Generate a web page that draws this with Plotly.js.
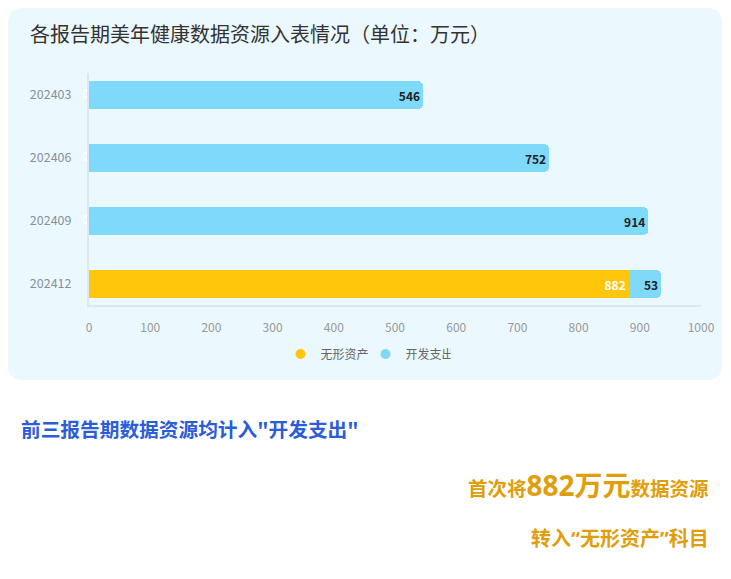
<!DOCTYPE html>
<html>
<head>
<meta charset="utf-8">
<script src="https://cdn.plot.ly/plotly-3.0.1.min.js"></script>
<style>
  html, body { margin: 0; padding: 0; background: #fff; }
  #chart { width: 731px; height: 579px; }
</style>
</head>
<body>
<div id="chart"></div>
<script>
// data
var periods = ['202403', '202406', '202409', '202412'];
var intangible = [0, 0, 0, 882];      // 无形资产
var devExpense = [546, 752, 914, 53]; // 开发支出
var xTicks = [0, 100, 200, 300, 400, 500, 600, 700, 800, 900, 1000];

var FONT = '"Noto Sans CJK SC", "Noto Sans", sans-serif';
var NOTE_FONT = '"Noto Sans", "Noto Sans CJK SC", sans-serif';
var YELLOW = '#FFC60B', BLUE = '#7ED9FB';

// plot box in px (used for the panel + notes placement)
var W = 731, H = 579;
var L = 89, R = 701, T = 73, B = 305;
function px(x) { return (x - L) / (R - L); }
function py(y) { return (B - y) / (B - T); }

// rounded panel path in paper units
function roundRect(x0, y0, x1, y1, r) {
  var p = function (x, y) { return px(x) + ',' + py(y); };
  return 'M' + p(x0 + r, y0) + ' L' + p(x1 - r, y0) + ' Q' + p(x1, y0) + ' ' + p(x1, y0 + r) +
    ' L' + p(x1, y1 - r) + ' Q' + p(x1, y1) + ' ' + p(x1 - r, y1) +
    ' L' + p(x0 + r, y1) + ' Q' + p(x0, y1) + ' ' + p(x0, y1 - r) +
    ' L' + p(x0, y0 + r) + ' Q' + p(x0, y0) + ' ' + p(x0 + r, y0) + ' Z';
}

var traces = [
  {
    type: 'bar', orientation: 'h', name: '无形资产',
    y: periods, x: intangible, width: 0.44,
    marker: { color: YELLOW },
    text: intangible.map(v => v > 0 ? String(v) : ''),
    textposition: 'inside', insidetextanchor: 'end',
    textfont: { color: '#fff', size: 12, family: FONT, weight: 'bold' },
    showlegend: false
  },
  {
    type: 'bar', orientation: 'h', name: '开发支出',
    y: periods, x: devExpense, width: 0.44,
    marker: { color: BLUE },
    text: devExpense.map(String),
    textposition: 'inside', insidetextanchor: 'end',
    textfont: { color: '#222', size: 12, family: FONT, weight: 'bold' },
    showlegend: false
  },
  // zero labels of 无形资产 (white, next to axis)
  {
    type: 'scatter', mode: 'text',
    y: periods.filter((p, i) => intangible[i] === 0),
    x: intangible.filter(v => v === 0),
    text: intangible.filter(v => v === 0).map(String),
    textposition: 'middle left',
    textfont: { color: '#fff', size: 12, family: FONT, weight: 'bold' },
    showlegend: false, cliponaxis: false
  },
  // legend entries with round markers
  { type: 'scatter', mode: 'markers', name: '无形资产', x: [null], y: [null],
    marker: { color: YELLOW, size: 10, symbol: 'circle' } },
  { type: 'scatter', mode: 'markers', name: '开发支出', x: [null], y: [null],
    marker: { color: BLUE, size: 10, symbol: 'circle' } }
];

var layout = {
  width: W, height: H,
  margin: { l: L, r: W - R, t: T, b: H - B, autoexpand: false },
  paper_bgcolor: '#ffffff',
  plot_bgcolor: 'rgba(0,0,0,0)',
  barmode: 'stack',
  barcornerradius: 5,
  hovermode: false,
  font: { family: FONT, color: '#666' },
  title: {
    text: '各报告期美年健康数据资源入表情况（单位：万元）',
    font: { size: 20, color: '#333', family: FONT },
    xref: 'container', yref: 'container',
    x: 30 / W, xanchor: 'left', y: 1 - 35 / H, yanchor: 'middle'
  },
  xaxis: {
    range: [0, 1000], tickvals: xTicks, ticktext: xTicks.map(String),
    showgrid: false, zeroline: false,
    showline: true, linecolor: '#DCE7EF', linewidth: 2,
    tickfont: { size: 12, color: '#999' }, ticks: '', tickangle: 0,
    ticklabelstandoff: 11,
    automargin: false, fixedrange: true
  },
  yaxis: {
    type: 'category', range: [3.333, -0.35],
    showgrid: false, zeroline: false,
    showline: true, linecolor: '#DCE7EF', linewidth: 2,
    tickfont: { size: 12.5, color: '#8A9099' }, ticks: '',
    ticklabelstandoff: 13,
    automargin: false, fixedrange: true
  },
  legend: {
    orientation: 'h', traceorder: 'normal',
    xref: 'container', x: 0.5, xanchor: 'center',
    yref: 'paper', y: py(354), yanchor: 'middle',
    entrywidth: 40,
    font: { size: 12, color: '#666' }, bgcolor: 'rgba(0,0,0,0)'
  },
  shapes: [{
    type: 'path', xref: 'paper', yref: 'paper', layer: 'below',
    path: roundRect(8, 8, 722, 380, 15),
    fillcolor: '#EBF8FE', line: { width: 0 }
  }],
  annotations: [
    {
      xref: 'paper', yref: 'paper', x: px(19), y: py(428), xanchor: 'left', yanchor: 'middle',
      text: '<b>前三报告期数据资源均计入"开发支出"</b>', showarrow: false,
      font: { size: 19.7, color: '#2B5DD8', family: FONT }
    },
    {
      xref: 'paper', yref: 'paper', x: px(711), y: py(485), xanchor: 'right', yanchor: 'middle',
      text: '<b>首次将<span style="font-size:28px">882万元</span>数据资源</b>', showarrow: false,
      font: { size: 19.5, color: '#DF9E0B', family: NOTE_FONT }
    },
    {
      xref: 'paper', yref: 'paper', x: px(711), y: py(538), xanchor: 'right', yanchor: 'middle',
      text: '<b>转入“无形资产”科目</b>', showarrow: false,
      font: { size: 20, color: '#DF9E0B', family: NOTE_FONT }
    }
  ]
};

Plotly.newPlot('chart', traces, layout, { displayModeBar: false, staticPlot: true });
</script>
</body>
</html>
